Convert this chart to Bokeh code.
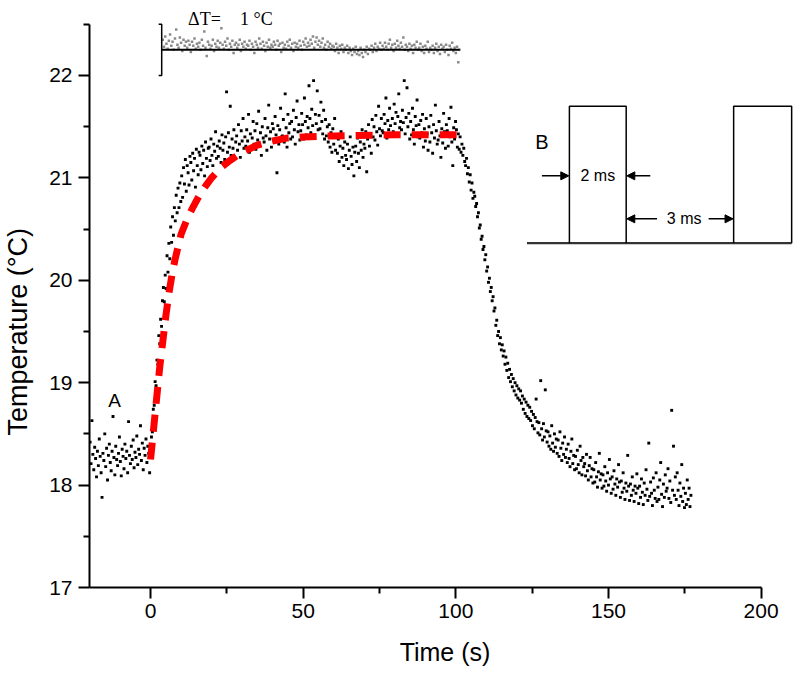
from bokeh.plotting import figure
from bokeh.models import Range1d, FixedTicker, Label, Arrow, NormalHead
from bokeh.embed import file_html
from bokeh.resources import INLINE

# ---------------- data ----------------
time_s = [
    -19.8, -19.5, -19.2, -18.9, -18.6, -18.3, -18.0, -17.7, -17.4, -17.1,
    -16.8, -16.5, -16.2, -15.9, -15.6, -15.3, -15.0, -14.7, -14.4, -14.1,
    -13.8, -13.5, -13.2, -12.9, -12.6, -12.3, -12.0, -11.7, -11.4, -11.1,
    -10.8, -10.5, -10.2, -9.9, -9.6, -9.3, -9.0, -8.7, -8.4, -8.1,
    -7.8, -7.5, -7.2, -6.9, -6.6, -6.3, -6.0, -5.7, -5.4, -5.1,
    -4.8, -4.5, -4.2, -3.9, -3.6, -3.3, -3.0, -2.7, -2.4, -2.1,
    -1.8, -1.5, -1.2, -0.9, -0.6, -0.3, 0.0, 0.3, 0.6, 0.9,
    1.2, 1.5, 1.8, 2.1, 2.4, 2.7, 3.0, 3.3, 3.6, 3.9,
    4.2, 4.5, 4.8, 5.1, 5.4, 5.7, 6.0, 6.3, 6.6, 6.9,
    7.2, 7.5, 7.8, 8.1, 8.4, 8.7, 9.0, 9.3, 9.6, 9.9,
    10.2, 10.5, 10.8, 11.1, 11.4, 11.7, 12.0, 12.3, 12.6, 12.9,
    13.2, 13.5, 13.8, 14.1, 14.4, 14.7, 15.0, 15.3, 15.6, 15.9,
    16.2, 16.5, 16.8, 17.1, 17.4, 17.7, 18.0, 18.3, 18.6, 18.9,
    19.2, 19.5, 19.8, 20.1, 20.4, 20.7, 21.0, 21.3, 21.6, 21.9,
    22.2, 22.5, 22.8, 23.1, 23.4, 23.7, 24.0, 24.3, 24.6, 24.9,
    25.2, 25.5, 25.8, 26.1, 26.4, 26.7, 27.0, 27.3, 27.6, 27.9,
    28.2, 28.5, 28.8, 29.1, 29.4, 29.7, 30.0, 30.3, 30.6, 30.9,
    31.2, 31.5, 31.8, 32.1, 32.4, 32.7, 33.0, 33.3, 33.6, 33.9,
    34.2, 34.5, 34.8, 35.1, 35.4, 35.7, 36.0, 36.3, 36.6, 36.9,
    37.2, 37.5, 37.8, 38.1, 38.4, 38.7, 39.0, 39.3, 39.6, 39.9,
    40.2, 40.5, 40.8, 41.1, 41.4, 41.7, 42.0, 42.3, 42.6, 42.9,
    43.2, 43.5, 43.8, 44.1, 44.4, 44.7, 45.0, 45.3, 45.6, 45.9,
    46.2, 46.5, 46.8, 47.1, 47.4, 47.7, 48.0, 48.3, 48.6, 48.9,
    49.2, 49.5, 49.8, 50.1, 50.4, 50.7, 51.0, 51.3, 51.6, 51.9,
    52.2, 52.5, 52.8, 53.1, 53.4, 53.7, 54.0, 54.3, 54.6, 54.9,
    55.2, 55.5, 55.8, 56.1, 56.4, 56.7, 57.0, 57.3, 57.6, 57.9,
    58.2, 58.5, 58.8, 59.1, 59.4, 59.7, 60.0, 60.3, 60.6, 60.9,
    61.2, 61.5, 61.8, 62.1, 62.4, 62.7, 63.0, 63.3, 63.6, 63.9,
    64.2, 64.5, 64.8, 65.1, 65.4, 65.7, 66.0, 66.3, 66.6, 66.9,
    67.2, 67.5, 67.8, 68.1, 68.4, 68.7, 69.0, 69.3, 69.6, 69.9,
    70.2, 70.5, 70.8, 71.1, 71.4, 71.7, 72.0, 72.3, 72.6, 72.9,
    73.2, 73.5, 73.8, 74.1, 74.4, 74.7, 75.0, 75.3, 75.6, 75.9,
    76.2, 76.5, 76.8, 77.1, 77.4, 77.7, 78.0, 78.3, 78.6, 78.9,
    79.2, 79.5, 79.8, 80.1, 80.4, 80.7, 81.0, 81.3, 81.6, 81.9,
    82.2, 82.5, 82.8, 83.1, 83.4, 83.7, 84.0, 84.3, 84.6, 84.9,
    85.2, 85.5, 85.8, 86.1, 86.4, 86.7, 87.0, 87.3, 87.6, 87.9,
    88.2, 88.5, 88.8, 89.1, 89.4, 89.7, 90.0, 90.3, 90.6, 90.9,
    91.2, 91.5, 91.8, 92.1, 92.4, 92.7, 93.0, 93.3, 93.6, 93.9,
    94.2, 94.5, 94.8, 95.1, 95.4, 95.7, 96.0, 96.3, 96.6, 96.9,
    97.2, 97.5, 97.8, 98.1, 98.4, 98.7, 99.0, 99.3, 99.6, 99.9,
    100.2, 100.5, 100.8, 101.1, 101.4, 101.7, 102.0, 102.3, 102.6, 102.9,
    103.2, 103.5, 103.8, 104.1, 104.4, 104.7, 105.0, 105.3, 105.6, 105.9,
    106.2, 106.5, 106.8, 107.1, 107.4, 107.7, 108.0, 108.3, 108.6, 108.9,
    109.2, 109.5, 109.8, 110.1, 110.4, 110.7, 111.0, 111.3, 111.6, 111.9,
    112.2, 112.5, 112.8, 113.1, 113.4, 113.7, 114.0, 114.3, 114.6, 114.9,
    115.2, 115.5, 115.8, 116.1, 116.4, 116.7, 117.0, 117.3, 117.6, 117.9,
    118.2, 118.5, 118.8, 119.1, 119.4, 119.7, 120.0, 120.3, 120.6, 120.9,
    121.2, 121.5, 121.8, 122.1, 122.4, 122.7, 123.0, 123.3, 123.6, 123.9,
    124.2, 124.5, 124.8, 125.1, 125.4, 125.7, 126.0, 126.3, 126.6, 126.9,
    127.2, 127.5, 127.8, 128.1, 128.4, 128.7, 129.0, 129.3, 129.6, 129.9,
    130.2, 130.5, 130.8, 131.1, 131.4, 131.7, 132.0, 132.3, 132.6, 132.9,
    133.2, 133.5, 133.8, 134.1, 134.4, 134.7, 135.0, 135.3, 135.6, 135.9,
    136.2, 136.5, 136.8, 137.1, 137.4, 137.7, 138.0, 138.3, 138.6, 138.9,
    139.2, 139.5, 139.8, 140.1, 140.4, 140.7, 141.0, 141.3, 141.6, 141.9,
    142.2, 142.5, 142.8, 143.1, 143.4, 143.7, 144.0, 144.3, 144.6, 144.9,
    145.2, 145.5, 145.8, 146.1, 146.4, 146.7, 147.0, 147.3, 147.6, 147.9,
    148.2, 148.5, 148.8, 149.1, 149.4, 149.7, 150.0, 150.3, 150.6, 150.9,
    151.2, 151.5, 151.8, 152.1, 152.4, 152.7, 153.0, 153.3, 153.6, 153.9,
    154.2, 154.5, 154.8, 155.1, 155.4, 155.7, 156.0, 156.3, 156.6, 156.9,
    157.2, 157.5, 157.8, 158.1, 158.4, 158.7, 159.0, 159.3, 159.6, 159.9,
    160.2, 160.5, 160.8, 161.1, 161.4, 161.7, 162.0, 162.3, 162.6, 162.9,
    163.2, 163.5, 163.8, 164.1, 164.4, 164.7, 165.0, 165.3, 165.6, 165.9,
    166.2, 166.5, 166.8, 167.1, 167.4, 167.7, 168.0, 168.3, 168.6, 168.9,
    169.2, 169.5, 169.8, 170.1, 170.4, 170.7, 171.0, 171.3, 171.6, 171.9,
    172.2, 172.5, 172.8, 173.1, 173.4, 173.7, 174.0, 174.3, 174.6, 174.9,
    175.2, 175.5, 175.8, 176.1, 176.4, 176.7, 177.0,
]
temp_c = [
    18.42, 18.21, 18.63, 18.30, 18.15, 18.37, 18.26, 18.08, 18.33, 18.19,
    18.45, 18.28, 18.12, 17.88, 18.31, 18.24, 18.50, 18.18, 18.36, 18.05,
    18.29, 18.40, 18.22, 18.14, 18.33, 18.67, 18.27, 18.10, 18.38, 18.25,
    18.19, 18.31, 18.47, 18.23, 18.09, 18.35, 18.28, 18.16, 18.40, 18.26,
    18.33, 18.12, 18.62, 18.29, 18.21, 18.38, 18.25, 18.44, 18.17, 18.32,
    18.27, 18.48, 18.20, 18.35, 18.30, 18.58, 18.24, 18.41, 18.15, 18.36,
    18.29, 18.45, 18.22, 18.38, 18.31, 18.12, 18.34, 18.47, 18.52, 18.74,
    18.78, 19.01, 18.97, 19.22, 19.18, 19.46, 19.38, 19.62, 19.55, 19.80,
    19.93, 19.79, 20.05, 19.92, 20.24, 20.08, 20.36, 20.21, 20.52, 20.37,
    20.62, 20.44, 20.71, 20.58, 20.83, 20.66, 20.90, 20.71, 20.95, 20.77,
    21.02, 20.81, 21.10, 20.94, 21.18, 20.87, 21.12, 21.05, 20.93, 21.21,
    21.15, 20.98, 21.24, 21.07, 21.19, 20.91, 21.28, 21.12, 21.03, 21.25,
    21.22, 21.08, 21.31, 21.14, 21.27, 21.02, 21.35, 21.19, 21.11, 21.29,
    21.30, 21.17, 21.38, 21.22, 21.12, 21.33, 21.26, 21.45, 21.19, 21.31,
    21.21, 21.36, 21.29, 21.15, 21.42, 21.27, 21.34, 21.18, 21.40, 21.84,
    21.25, 21.44, 21.30, 21.70, 21.22, 21.38, 21.29, 21.47, 21.19, 21.35,
    21.41, 21.27, 21.52, 21.33, 21.20, 21.46, 21.36, 21.58, 21.29, 21.40,
    21.31, 21.47, 21.36, 21.62, 21.25, 21.43, 21.30, 21.39, 21.55, 21.33,
    21.46, 21.28, 21.53, 21.37, 21.65, 21.31, 21.44, 21.22, 21.50, 21.39,
    21.35, 21.58, 21.41, 21.27, 21.49, 21.71, 21.38, 21.45, 21.30, 21.53,
    21.48, 21.36, 21.60, 21.42, 21.05, 21.51, 21.33, 21.47, 21.68, 21.40,
    21.41, 21.57, 21.35, 21.82, 21.49, 21.30, 21.62, 21.44, 21.53, 21.38,
    21.55, 21.40, 21.66, 21.47, 21.33, 21.59, 21.75, 21.45, 21.52, 21.37,
    21.46, 21.63, 21.52, 21.38, 21.78, 21.55, 21.42, 21.60, 21.49, 21.90,
    21.58, 21.44, 21.67, 21.51, 21.95, 21.40, 21.62, 21.53, 21.85, 21.47,
    21.61, 21.48, 21.74, 21.55, 21.43, 21.66, 21.38, 21.57, 21.41, 21.50,
    21.35, 21.52, 21.30, 21.44, 21.25, 21.48, 21.33, 21.58, 21.27, 21.40,
    21.24, 21.38, 21.16, 21.31, 21.45, 21.20, 21.29, 21.12, 21.35, 21.22,
    21.18, 21.33, 21.09, 21.27, 21.40, 21.21, 21.13, 21.30, 21.02, 21.25,
    21.31, 21.16, 21.39, 21.24, 21.10, 21.35, 21.27, 21.47, 21.20, 21.33,
    21.29, 21.45, 21.06, 21.38, 21.52, 21.31, 21.43, 21.24, 21.57, 21.40,
    21.50, 21.37, 21.61, 21.45, 21.32, 21.70, 21.48, 21.41, 21.58, 21.46,
    21.44, 21.62, 21.53, 21.78, 21.39, 21.56, 21.47, 21.68, 21.51, 21.42,
    21.58, 21.45, 21.72, 21.53, 21.64, 21.41, 21.60, 21.82, 21.49, 21.55,
    21.47, 21.66, 21.54, 21.95, 21.43, 21.59, 21.88, 21.50, 21.63, 21.38,
    21.55, 21.42, 21.68, 21.47, 21.33, 21.60, 21.51, 21.76, 21.40, 21.52,
    21.39, 21.56, 21.44, 21.62, 21.30, 21.48, 21.36, 21.58, 21.43, 21.27,
    21.50, 21.35, 21.61, 21.44, 21.24, 21.52, 21.39, 21.71, 21.46, 21.33,
    21.37, 21.55, 21.41, 21.20, 21.48, 21.34, 21.63, 21.45, 21.29, 21.52,
    21.46, 21.31, 21.58, 21.40, 21.69, 21.35, 21.12, 21.49, 21.38, 21.55,
    21.47, 21.30, 21.43, 21.28, 21.40, 21.25, 21.33, 21.22, 21.29, 21.16,
    21.12, 21.19, 21.04, 21.10, 20.96, 21.03, 20.88, 20.95, 20.80, 20.86,
    20.82, 20.72, 20.75, 20.62, 20.66, 20.51, 20.54, 20.40, 20.43, 20.30,
    20.33, 20.20, 20.25, 20.09, 20.13, 19.98, 20.02, 19.89, 19.93, 19.80,
    19.84, 19.70, 19.73, 19.56, 19.61, 19.46, 19.50, 19.38, 19.44, 19.32,
    19.37, 19.26, 19.31, 19.18, 19.25, 19.12, 19.19, 19.05, 19.13, 19.01,
    19.08, 18.96, 19.04, 18.92, 19.00, 18.88, 18.97, 18.85, 18.94, 18.83,
    18.92, 18.80, 18.87, 18.74, 18.84, 18.70, 18.81, 18.67, 18.78, 18.65,
    18.76, 18.63, 18.72, 18.58, 18.69, 18.55, 18.66, 18.84, 18.62, 18.51,
    18.61, 18.49, 19.02, 18.55, 18.44, 18.60, 18.47, 18.93, 18.53, 18.42,
    18.52, 18.38, 18.48, 18.35, 18.58, 18.41, 18.33, 18.50, 18.37, 18.45,
    18.31, 18.44, 18.28, 18.52, 18.36, 18.24, 18.41, 18.30, 18.47, 18.27,
    18.35, 18.22, 18.40, 18.26, 18.18, 18.33, 18.45, 18.21, 18.29, 18.15,
    18.28, 18.16, 18.34, 18.20, 18.12, 18.38, 18.24, 18.10, 18.27, 18.18,
    18.21, 18.09, 18.30, 18.14, 18.05, 18.19, 18.27, 18.08, 18.16, 18.02,
    18.15, 18.03, 18.22, 18.08, 17.98, 18.13, 18.31, 18.05, 18.11, 17.97,
    18.10, 17.99, 18.18, 18.04, 17.94, 18.12, 18.00, 18.25, 18.06, 17.92,
    18.08, 17.96, 18.14, 18.01, 17.90, 18.06, 17.98, 18.20, 18.03, 17.88,
    18.04, 17.93, 18.12, 17.97, 17.86, 18.02, 17.94, 18.29, 17.99, 17.85,
    18.01, 17.90, 18.08, 17.95, 17.84, 17.99, 17.92, 18.11, 17.97, 17.82,
    17.99, 17.88, 18.06, 17.93, 17.81, 18.02, 17.90, 18.15, 17.96, 17.85,
    18.41, 17.89, 18.03, 17.92, 17.80, 18.07, 17.95, 17.87, 18.12, 17.84,
    17.98, 17.86, 18.05, 18.22, 17.91, 17.79, 18.01, 17.88, 18.10, 17.94,
    17.97, 18.16, 17.87, 18.04, 17.83, 18.73, 17.95, 18.38, 17.90, 18.08,
    17.86, 18.12, 17.95, 17.80, 18.02, 17.89, 18.20, 17.84, 17.97, 17.78,
    17.92, 17.81, 18.05, 17.86, 17.97, 17.79, 17.90,
]

# reference (grey) trace shown above the curve
ref_time_s = [
    4.0, 4.4, 4.8, 5.2, 5.6, 6.0, 6.4, 6.8, 7.2, 7.6,
    8.0, 8.4, 8.8, 9.2, 9.6, 10.0, 10.4, 10.8, 11.2, 11.6,
    12.0, 12.4, 12.8, 13.2, 13.6, 14.0, 14.4, 14.8, 15.2, 15.6,
    16.0, 16.4, 16.8, 17.2, 17.6, 18.0, 18.4, 18.8, 19.2, 19.6,
    20.0, 20.4, 20.8, 21.2, 21.6, 22.0, 22.4, 22.8, 23.2, 23.6,
    24.0, 24.4, 24.8, 25.2, 25.6, 26.0, 26.4, 26.8, 27.2, 27.6,
    28.0, 28.4, 28.8, 29.2, 29.6, 30.0, 30.4, 30.8, 31.2, 31.6,
    32.0, 32.4, 32.8, 33.2, 33.6, 34.0, 34.4, 34.8, 35.2, 35.6,
    36.0, 36.4, 36.8, 37.2, 37.6, 38.0, 38.4, 38.8, 39.2, 39.6,
    40.0, 40.4, 40.8, 41.2, 41.6, 42.0, 42.4, 42.8, 43.2, 43.6,
    44.0, 44.4, 44.8, 45.2, 45.6, 46.0, 46.4, 46.8, 47.2, 47.6,
    48.0, 48.4, 48.8, 49.2, 49.6, 50.0, 50.4, 50.8, 51.2, 51.6,
    52.0, 52.4, 52.8, 53.2, 53.6, 54.0, 54.4, 54.8, 55.2, 55.6,
    56.0, 56.4, 56.8, 57.2, 57.6, 58.0, 58.4, 58.8, 59.2, 59.6,
    60.0, 60.4, 60.8, 61.2, 61.6, 62.0, 62.4, 62.8, 63.2, 63.6,
    64.0, 64.4, 64.8, 65.2, 65.6, 66.0, 66.4, 66.8, 67.2, 67.6,
    68.0, 68.4, 68.8, 69.2, 69.6, 70.0, 70.4, 70.8, 71.2, 71.6,
    72.0, 72.4, 72.8, 73.2, 73.6, 74.0, 74.4, 74.8, 75.2, 75.6,
    76.0, 76.4, 76.8, 77.2, 77.6, 78.0, 78.4, 78.8, 79.2, 79.6,
    80.0, 80.4, 80.8, 81.2, 81.6, 82.0, 82.4, 82.8, 83.2, 83.6,
    84.0, 84.4, 84.8, 85.2, 85.6, 86.0, 86.4, 86.8, 87.2, 87.6,
    88.0, 88.4, 88.8, 89.2, 89.6, 90.0, 90.4, 90.8, 91.2, 91.6,
    92.0, 92.4, 92.8, 93.2, 93.6, 94.0, 94.4, 94.8, 95.2, 95.6,
    96.0, 96.4, 96.8, 97.2, 97.6, 98.0, 98.4, 98.8, 99.2, 99.6,
    100.0, 100.4, 100.8, 101.2,
]
ref_temp_c = [
    22.35, 22.28, 22.38, 22.31, 22.26, 22.34, 22.40, 22.29, 22.33, 22.25,
    22.36, 22.45, 22.30, 22.27, 22.37, 22.32, 22.24, 22.35, 22.29, 22.33,
    22.27, 22.34, 22.30, 22.23, 22.33, 22.29, 22.36, 22.26, 22.31, 22.28,
    22.32, 22.25, 22.35, 22.29, 22.43, 22.27, 22.19, 22.33, 22.30, 22.26,
    22.29, 22.35, 22.24, 22.31, 22.28, 22.34, 22.27, 22.32, 22.46, 22.30,
    22.26, 22.33, 22.29, 22.36, 22.25, 22.31, 22.28, 22.34, 22.22, 22.30,
    22.32, 22.27, 22.30, 22.35, 22.24, 22.31, 22.28, 22.33, 22.26, 22.30,
    22.29, 22.34, 22.25, 22.31, 22.28, 22.22, 22.33, 22.30, 22.27, 22.36,
    22.31, 22.26, 22.33, 22.29, 22.24, 22.32, 22.28, 22.35, 22.27, 22.30,
    22.28, 22.33, 22.30, 22.25, 22.34, 22.29, 22.31, 22.23, 22.32, 22.27,
    22.30, 22.26, 22.33, 22.29, 22.35, 22.27, 22.31, 22.24, 22.32, 22.28,
    22.31, 22.27, 22.34, 22.29, 22.25, 22.33, 22.30, 22.36, 22.28, 22.32,
    22.29, 22.35, 22.31, 22.38, 22.27, 22.33, 22.37, 22.30, 22.34, 22.28,
    22.32, 22.36, 22.27, 22.30, 22.25, 22.33, 22.28, 22.31, 22.26, 22.29,
    22.28, 22.24, 22.31, 22.27, 22.22, 22.29, 22.26, 22.30, 22.23, 22.27,
    22.25, 22.29, 22.22, 22.27, 22.24, 22.20, 22.26, 22.23, 22.28, 22.21,
    22.24, 22.20, 22.27, 22.22, 22.18, 22.25, 22.23, 22.28, 22.21, 22.26,
    22.25, 22.29, 22.23, 22.27, 22.31, 22.24, 22.28, 22.26, 22.32, 22.25,
    22.29, 22.26, 22.32, 22.28, 22.25, 22.31, 22.35, 22.27, 22.30, 22.24,
    22.31, 22.27, 22.34, 22.29, 22.26, 22.32, 22.28, 22.37, 22.25, 22.30,
    22.28, 22.24, 22.31, 22.26, 22.29, 22.22, 22.30, 22.27, 22.33, 22.25,
    22.27, 22.31, 22.24, 22.28, 22.22, 22.29, 22.26, 22.33, 22.23, 22.27,
    22.25, 22.29, 22.22, 22.27, 22.31, 22.24, 22.28, 22.21, 22.30, 22.26,
    22.28, 22.23, 22.30, 22.25, 22.20, 22.29, 22.26, 22.32, 22.24, 22.27,
    22.22, 22.28, 22.13, 22.25,
]

# fitted curve (red dashed)
fit_time_s = [0, 1, 2, 3, 4, 5, 6, 7, 8, 10, 12, 14, 16, 18, 20, 23, 26,
              30, 35, 40, 45, 50, 60, 80, 102]
fit_temp_c = [18.25, 18.55, 18.85, 19.15, 19.40, 19.65, 19.87, 20.05, 20.20,
              20.45, 20.60, 20.72, 20.83, 20.92, 21.00, 21.10, 21.17, 21.25,
              21.32, 21.36, 21.39, 21.40, 21.41, 21.42, 21.42]

x_major = [0, 50, 100, 150, 200]
x_minor = [25, 75, 125, 175]
y_major = [17, 18, 19, 20, 21, 22]
y_minor = [17.5, 18.5, 19.5, 20.5, 21.5, 22.5]

# reference-trace zero line and 1 degC scale bar
ref_line_t = [3.65, 101.3]
ref_line_y = [22.25, 22.25]
bar_t = [2.65, 3.65, 3.65, 2.65]
bar_y = [22.5, 22.5, 22.0, 22.0]

# pulse-train inset (B)
pulse_base_t = [123.3, 210.0]
pulse_low = 20.362
pulse_high = 21.70
pulse_edges = [(137.2, 155.8), (191.0, 210.0)]

assert len(time_s) == len(temp_c)
assert len(ref_time_s) == len(ref_temp_c)

# ---------------- figure ----------------
p = figure(width=800, height=674,
           x_range=Range1d(-20, 212.9), y_range=Range1d(17, 22.654),
           output_backend="svg", toolbar_location=None,
           min_border_left=89, min_border_right=0,
           min_border_top=8, min_border_bottom=87)
p.outline_line_color = None
p.grid.visible = False
p.background_fill_color = "white"
p.border_fill_color = "white"

FONT = "Liberation Sans"

for ax in (p.xaxis[0], p.yaxis[0]):
    ax.axis_line_width = 2
    ax.axis_line_color = "black"
    ax.major_tick_line_width = 2
    ax.minor_tick_line_width = 2
    ax.major_tick_line_color = "black"
    ax.minor_tick_line_color = "black"
    ax.major_tick_in = 0
    ax.major_tick_out = 11
    ax.minor_tick_in = 0
    ax.minor_tick_out = 6
    ax.major_label_text_font = FONT
    ax.major_label_text_font_size = "21px"
    ax.major_label_text_color = "black"
    ax.axis_label_text_font = FONT
    ax.axis_label_text_font_style = "normal"
    ax.axis_label_text_color = "black"

p.xaxis.ticker = FixedTicker(ticks=x_major, minor_ticks=x_minor)
p.yaxis.ticker = FixedTicker(ticks=y_major, minor_ticks=y_minor)
p.xaxis.bounds = (-20, 200)
p.yaxis.bounds = (17, 22.5)
p.xaxis.major_label_standoff = 5
p.yaxis.major_label_standoff = 6

p.xaxis.axis_label = "Time (s)"
p.xaxis.axis_label_text_font_size = "25px"
p.xaxis.axis_label_standoff = 17
p.yaxis.axis_label = "Temperature (°C)" + "\u00a0" * 9
p.yaxis.axis_label_text_font_size = "27px"
p.yaxis.axis_label_standoff = 13

# grey reference trace
p.scatter(ref_time_s, ref_temp_c, marker="square", size=2.5,
          color="#8a8a8a", line_color=None)
p.line(ref_line_t, ref_line_y, color="black", line_width=2)
p.line(bar_t, bar_y, color="black", line_width=1.5)

# measured data
p.scatter(time_s, temp_c, marker="square", size=2.9, color="black", line_color=None)

# fit
p.line(fit_time_s, fit_temp_c, color="#ff0000", line_width=7, line_dash="17 11")

# pulse inset
p.line(pulse_base_t, [pulse_low, pulse_low], color="#333333", line_width=2.2)
for a, b in pulse_edges:
    p.line([a, a, b, b], [pulse_low, pulse_high, pulse_high, pulse_low],
           color="black", line_width=1.5)

head = dict(size=8, fill_color="black", line_color="black", line_width=1)
p.add_layout(Arrow(end=NormalHead(**head), x_start=128.2, y_start=21.02,
                   x_end=137.0, y_end=21.02, line_width=1.5))
p.add_layout(Arrow(end=NormalHead(**head), x_start=163.7, y_start=21.02,
                   x_end=156.0, y_end=21.02, line_width=1.5))
p.add_layout(Arrow(end=NormalHead(**head), x_start=165.9, y_start=20.60,
                   x_end=156.0, y_end=20.60, line_width=1.5))
p.add_layout(Arrow(end=NormalHead(**head), x_start=182.8, y_start=20.60,
                   x_end=190.8, y_end=20.60, line_width=1.5))

p.add_layout(Label(x=146.5, y=21.02, text="2 ms", text_font=FONT, text_color="black",
                   text_font_size="16px", text_align="center", text_baseline="middle"))
p.add_layout(Label(x=174.8, y=20.60, text="3 ms", text_font=FONT, text_color="black",
                   text_font_size="16px", text_align="center", text_baseline="middle"))
p.add_layout(Label(x=126.0, y=21.346, text="B", text_font=FONT, text_color="black",
                   text_font_size="20px", text_align="left", text_baseline="alphabetic"))
p.add_layout(Label(x=-11.8, y=18.83, text="A", text_font=FONT, text_color="black",
                   text_font_size="19px", text_align="center", text_baseline="alphabetic"))

p.add_layout(Label(x=12.3, y=22.55, text="ΔT=", text_font="Liberation Serif",
                   text_color="black", text_font_size="18px",
                   text_align="left", text_baseline="alphabetic"))
p.add_layout(Label(x=29.3, y=22.55, text="1 °C", text_font="Liberation Serif",
                   text_color="black", text_font_size="18px",
                   text_align="left", text_baseline="alphabetic"))

open("out.html", "w").write(file_html(p, INLINE))
